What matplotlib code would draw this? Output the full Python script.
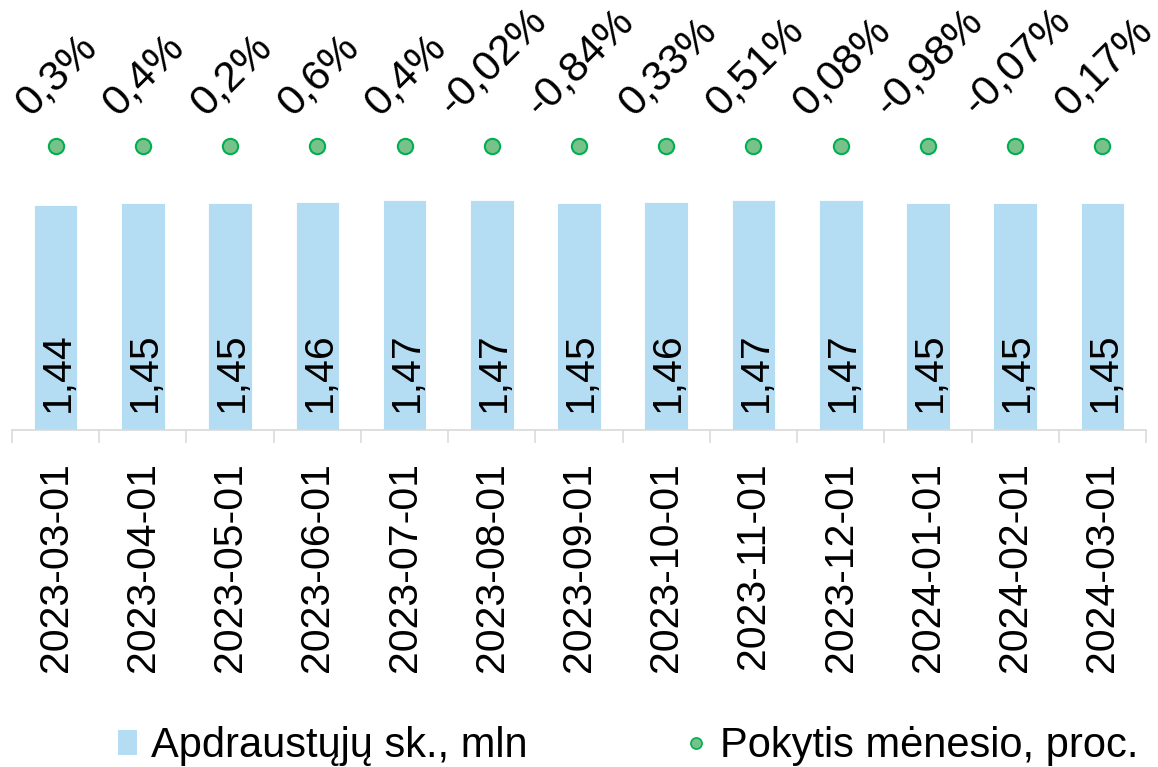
import matplotlib
matplotlib.use("Agg")
import matplotlib.pyplot as plt
from matplotlib.patches import Patch
from matplotlib.lines import Line2D

dates = ["2023-03-01", "2023-04-01", "2023-05-01", "2023-06-01", "2023-07-01",
         "2023-08-01", "2023-09-01", "2023-10-01", "2023-11-01", "2023-12-01",
         "2024-01-01", "2024-02-01", "2024-03-01"]
insured_mln = [1.44, 1.45, 1.45, 1.46, 1.47, 1.47, 1.45, 1.46, 1.47, 1.47, 1.45, 1.45, 1.45]
change_pct = [0.3, 0.4, 0.2, 0.6, 0.4, -0.02, -0.84, 0.33, 0.51, 0.08, -0.98, -0.07, 0.17]

bar_name = "Apdraustųjų sk., mln"
dot_name = "Pokytis mėnesio, proc."

plt.rcParams['font.family'] = ['Liberation Sans', 'DejaVu Sans']

BAR_COLOR = "#B4DCF3"
DOT_FACE = "#78C18A"
DOT_EDGE = "#00B050"
AXIS_GRAY = "#D9D9D9"
FS = 29.5

W, H = 1158, 767
fig = plt.figure(figsize=(W / 100, H / 100), dpi=100)
ax_left, ax_right = 12, 1146
ax_bottom_px, ax_top_px = 430, 10
ax = fig.add_axes([ax_left / W, (H - ax_bottom_px) / H,
                   (ax_right - ax_left) / W, (ax_bottom_px - ax_top_px) / H])

x = list(range(len(dates)))
ax.bar(x, insured_mln, width=0.5, color=BAR_COLOR, edgecolor="white", linewidth=0.6, zorder=2)
ax.set_xlim(-0.5, len(dates) - 0.5)
ax.set_ylim(0, 2.688)

for xi, v in zip(x, insured_mln):
    ax.annotate(f"{v:.2f}".replace(".", ","), xy=(xi, 0), xytext=(1.5, 13),
                textcoords="offset points", rotation=90, ha="center", va="bottom",
                fontsize=FS, color="black", zorder=3)

for s in ["top", "left", "right"]:
    ax.spines[s].set_visible(False)
ax.spines["bottom"].set_color(AXIS_GRAY)
ax.spines["bottom"].set_linewidth(1.2)
ax.set_yticks([])
ax.set_xticks(x)
ax.set_xticklabels(dates, rotation=90, fontsize=FS)
ax.tick_params(axis="x", which="major", length=0, pad=23)
ax.set_xticks([i - 0.5 for i in range(len(dates) + 1)], minor=True)
ax.tick_params(axis="x", which="minor", length=9.4, width=1.1, color=AXIS_GRAY)

ax2 = ax.twinx()
ax2.set_ylim(-676, 324)
ax2.plot(x, change_pct, linestyle="none", marker="o", markersize=11,
         markerfacecolor=DOT_FACE, markeredgecolor=DOT_EDGE, markeredgewidth=1.5, zorder=4)
for s in ["top", "left", "right", "bottom"]:
    ax2.spines[s].set_visible(False)
ax2.set_yticks([])

for xi, p in zip(x, change_pct):
    ax2.annotate(f"{p:g}".replace(".", ",") + "%", xy=(xi, p), xytext=(1, 16),
                 textcoords="offset points", rotation=45, ha="center", va="bottom",
                 fontsize=30.5, color="black")

handles = [
    Patch(facecolor=BAR_COLOR, edgecolor="none", label=bar_name),
    Line2D([], [], linestyle="none", marker="o", markersize=8,
           markerfacecolor=DOT_FACE, markeredgecolor=DOT_EDGE, markeredgewidth=1.2, label=dot_name),
]
fig.legend(handles=handles, loc="center", bbox_to_anchor=(628 / W, (H - 746) / H),
           ncol=2, frameon=False, fontsize=30, handlelength=0.45, handleheight=0.55,
           handletextpad=0.35, columnspacing=3.8, borderpad=0, borderaxespad=0)

fig.savefig("out.png", dpi=100)
